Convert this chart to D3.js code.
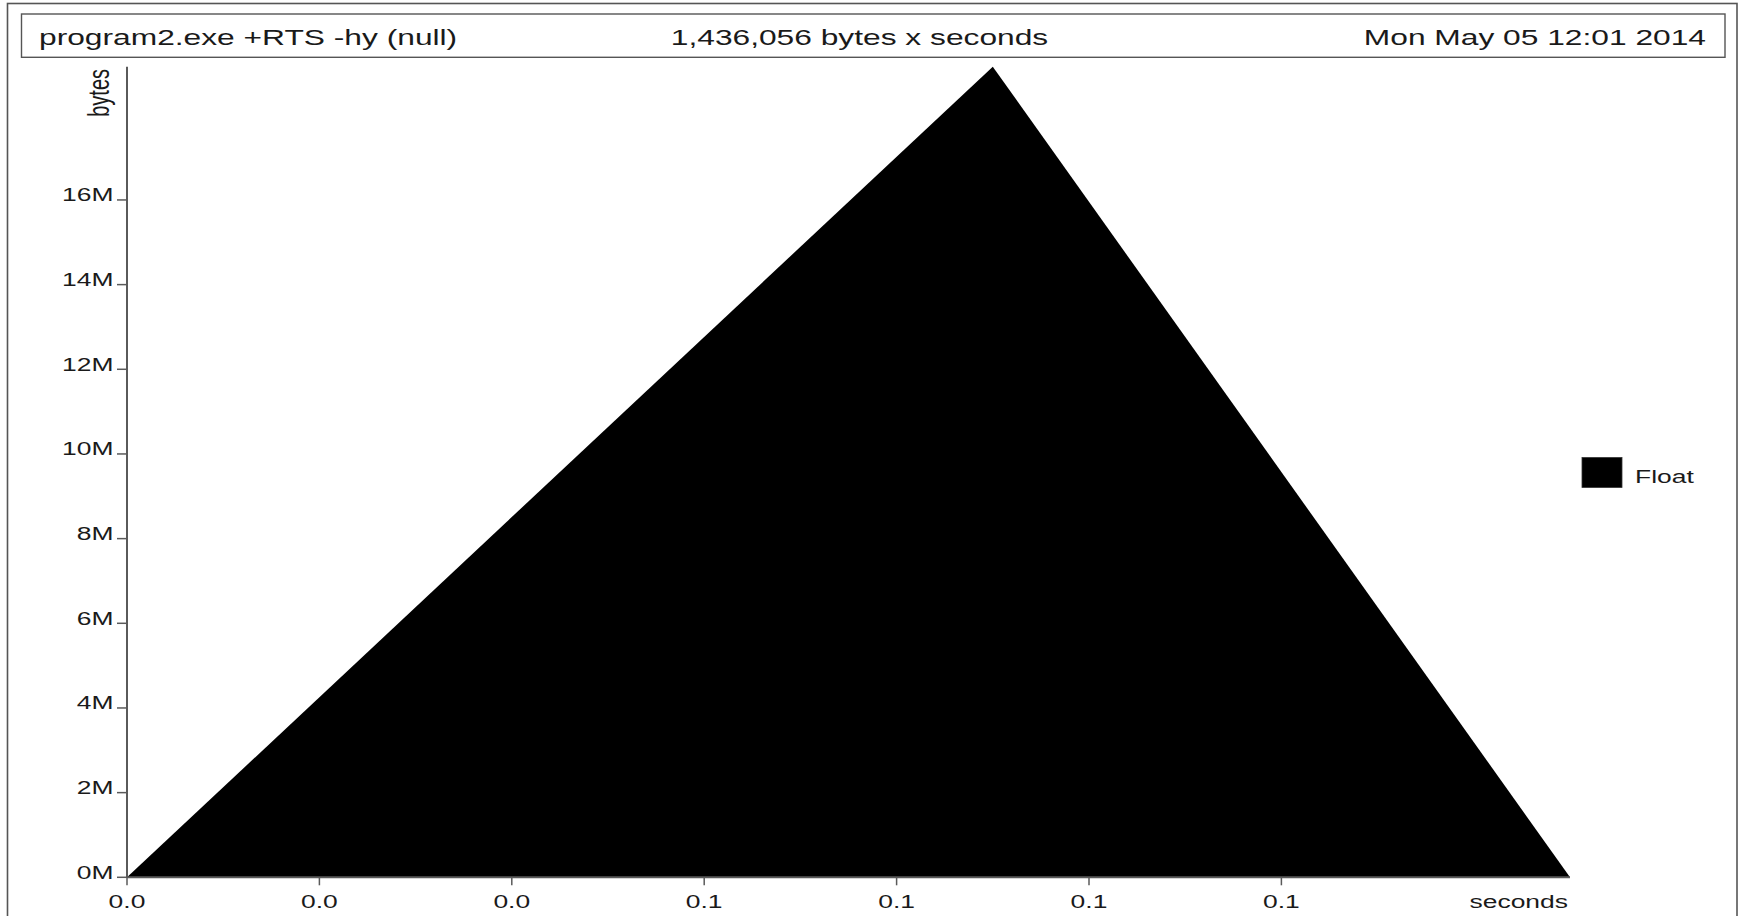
<!DOCTYPE html>
<html>
<head>
<meta charset="utf-8">
<script src="https://cdn.jsdelivr.net/npm/d3@7"></script>
<style>
  html, body { margin: 0; padding: 0; background: #fff; }
  svg { display: block; }
  text { font-family: "Liberation Sans", Arial, Helvetica, sans-serif; fill: #1a1a1a; }
</style>
</head>
<body>
<script>
// Heap profile: one band ("Float"), sampled at three times.
const sampleTimes = [0, 0.09, 0.15];          // seconds
const floatBytes  = [0, 19147413, 0];         // bytes
const bandNames   = ["Float"];
const bandColors  = ["#000000"];
const yTickValues = [0, 2e6, 4e6, 6e6, 8e6, 10e6, 12e6, 14e6, 16e6];
const xTickValues = [0, 0.02, 0.04, 0.06, 0.08, 0.10, 0.12];
const headerLeft   = "program2.exe +RTS -hy (null)";
const headerMiddle = "1,436,056 bytes x seconds";
const headerRight  = "Mon May 05 12:01 2014";

const W = 1744, H = 916;
const SX = 1.43;            // horizontal stretch of the lettering
const axisColor = "#5a5a5a";
const frameColor = "#555";

const svg = d3.select("body").append("svg").attr("width", W).attr("height", H);

// stretched text helper
function label(g, str, x, y, size, anchor, rotate) {
  return g.append("text")
    .attr("transform", `translate(${x},${y}) scale(${SX},1)` + (rotate ? ` rotate(${rotate})` : ""))
    .attr("text-anchor", anchor || "start")
    .style("font-size", size + "px")
    .text(str);
}

// outer frame
svg.append("rect").attr("x", 7.5).attr("y", 3.5).attr("width", 1729.5).attr("height", 940)
  .attr("fill", "none").attr("stroke", frameColor).attr("stroke-width", 1.6);

// header box
svg.append("rect").attr("x", 21.5).attr("y", 14).attr("width", 1703.5).attr("height", 43.3)
  .attr("fill", "none").attr("stroke", frameColor).attr("stroke-width", 1.4);
label(svg, headerLeft, 39, 44.5, 22.2, "start");
label(svg, headerMiddle, 859.5, 44.5, 22.2, "middle");
label(svg, headerRight, 1706, 44.5, 22.2, "end");

// scales
const x = d3.scaleLinear().domain([0, sampleTimes[sampleTimes.length - 1]]).range([127, 1570]);
const y = d3.scaleLinear().domain([0, d3.max(floatBytes)]).range([877.3, 66.7]);

// band area
const pts = sampleTimes.map((t, i) => ({ t, v: floatBytes[i] }));
const area = d3.area().x(d => x(d.t)).y0(y(0)).y1(d => y(d.v));
svg.append("path").datum(pts).attr("d", area).attr("fill", bandColors[0]);

// y axis
const gy = svg.append("g");
gy.append("line").attr("x1", x(0)).attr("x2", x(0)).attr("y1", y.range()[0]).attr("y2", y.range()[1])
  .attr("stroke", axisColor).attr("stroke-width", 2);
yTickValues.forEach(v => {
  const yy = y(v);
  gy.append("line").attr("x1", x(0) - 10).attr("x2", x(0)).attr("y1", yy).attr("y2", yy)
    .attr("stroke", axisColor).attr("stroke-width", 1.5);
  label(gy, d3.format("d")(v / 1e6) + "M", 113.5, yy + 1.5, 18.5, "end");
});
label(gy, "bytes", 109, 69, 20, "end", -90);

// x axis
const gx = svg.append("g");
gx.append("line").attr("x1", x.range()[0]).attr("x2", x.range()[1]).attr("y1", y(0)).attr("y2", y(0))
  .attr("stroke", axisColor).attr("stroke-width", 2);
xTickValues.forEach(t => {
  const xx = x(t);
  gx.append("line").attr("x1", xx).attr("x2", xx).attr("y1", y(0)).attr("y2", y(0) + 8)
    .attr("stroke", axisColor).attr("stroke-width", 1.5);
  label(gx, d3.format(".1f")(t), xx, 908, 18.5, "middle");
});
label(gx, "seconds", 1568, 908, 18.5, "end");

// legend
const gl = svg.append("g");
bandNames.forEach((name, i) => {
  gl.append("rect").attr("x", 1582).attr("y", 457.5).attr("width", 40).attr("height", 30)
    .attr("fill", bandColors[i]).attr("stroke", "#333").attr("stroke-width", 0.8);
  label(gl, name, 1635, 483, 18.5, "start");
});
</script>
</body>
</html>
